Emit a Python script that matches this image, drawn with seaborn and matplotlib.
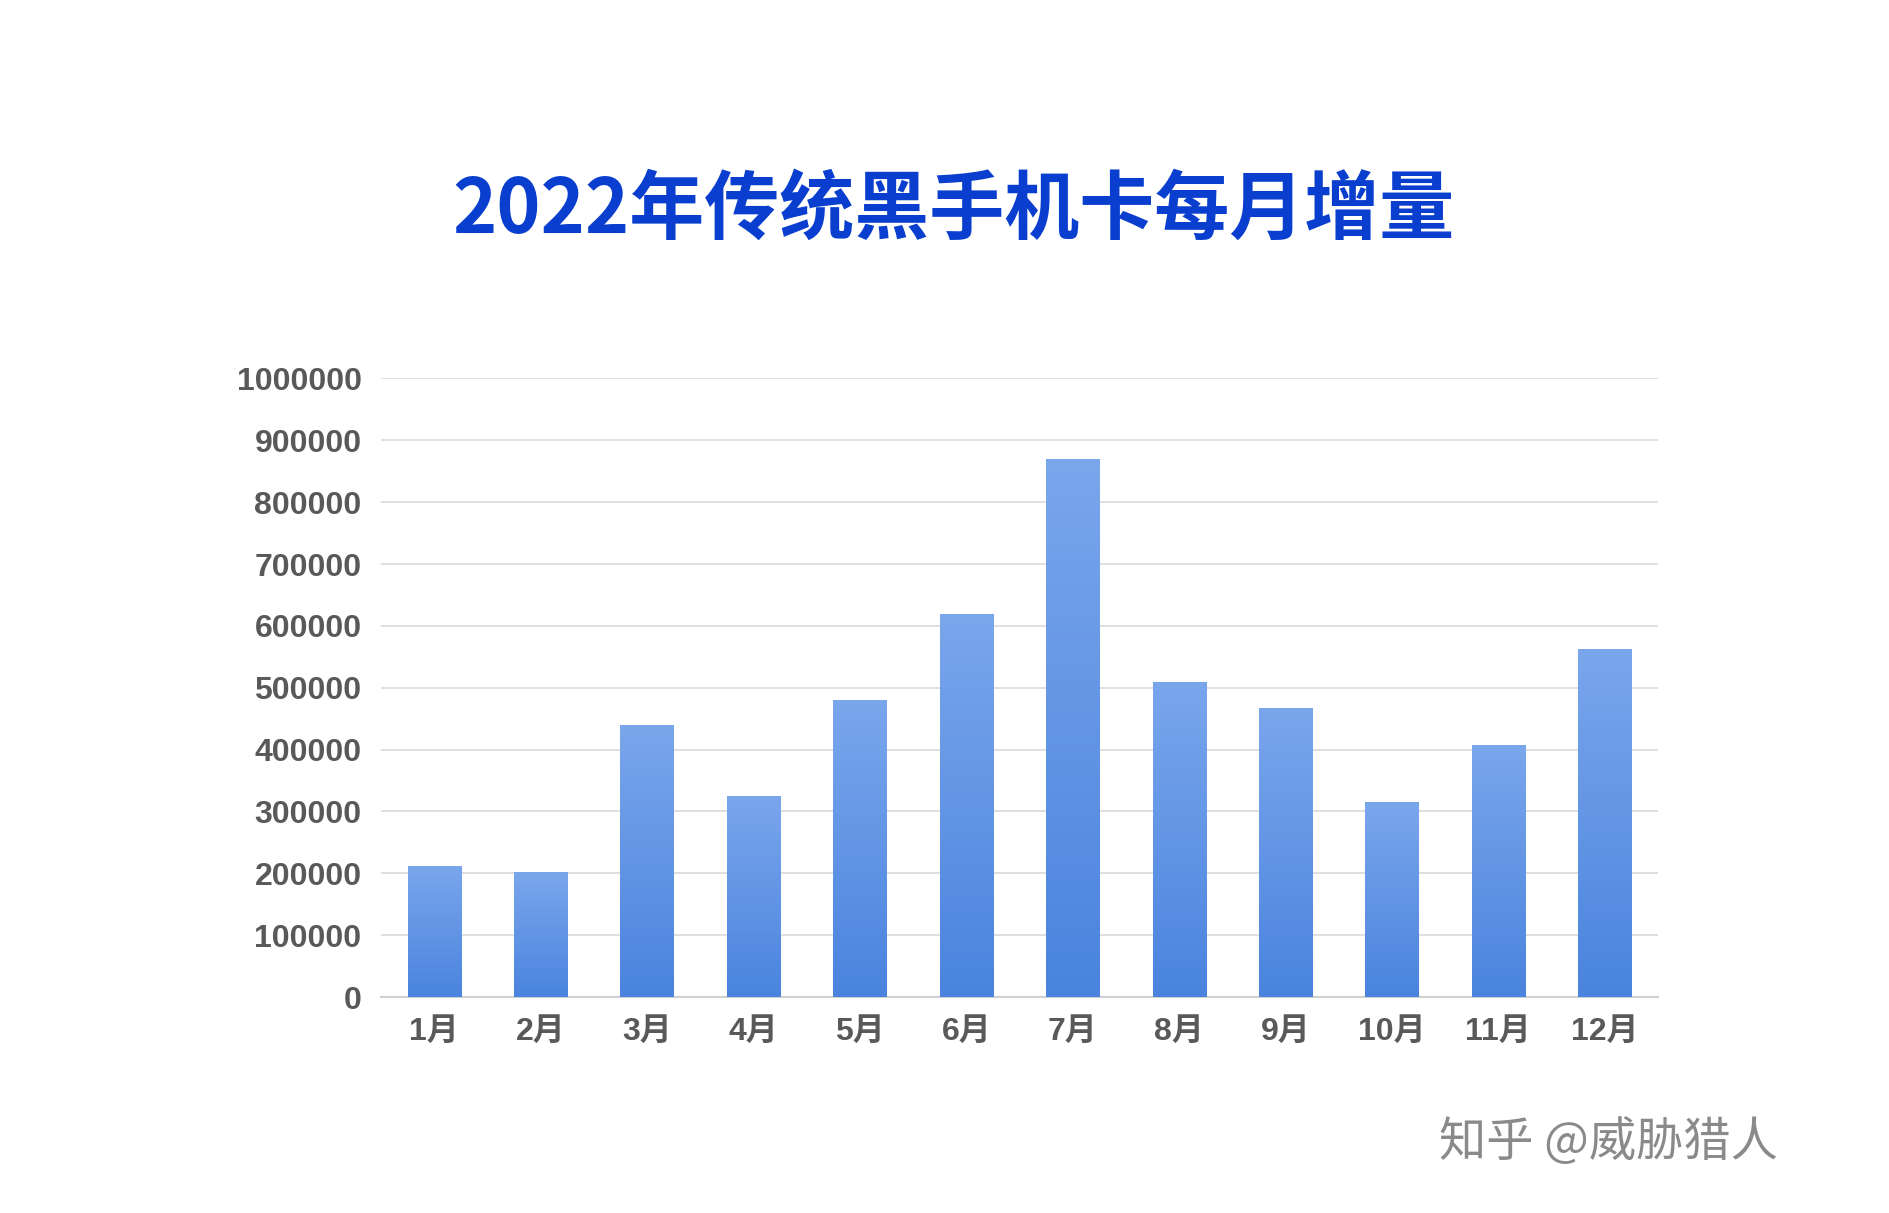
import matplotlib
matplotlib.use("Agg")
import matplotlib.pyplot as plt
import numpy as np
import pandas as pd
import seaborn as sns

months = ["1月", "2月", "3月", "4月", "5月", "6月", "7月", "8月", "9月", "10月", "11月", "12月"]
values = [212000, 202000, 440000, 325000, 480000, 620000, 870000, 510000, 468000, 315000, 408000, 562000]
yticks = list(range(0, 1000001, 100000))

plt.rcParams["font.family"] = ["Liberation Sans", "Noto Sans CJK SC"]
df = pd.DataFrame({"month": months, "value": values})

fig = plt.figure(figsize=(18.89, 12.13), dpi=100)
ax = fig.add_axes([0.2017, 0.178, 0.676, 0.510])
sns.barplot(data=df, x="month", y="value", color="#5b91e6", width=0.5, ax=ax, zorder=2)

# vertical gradient on each bar
grad = np.linspace(0, 1, 256).reshape(-1, 1)
cmap = matplotlib.colors.LinearSegmentedColormap.from_list("g", ["#4a84de", "#7aa6ec"])
for patch in ax.patches:
    x0, y0 = patch.get_x(), patch.get_y()
    w, h = patch.get_width(), patch.get_height()
    im = ax.imshow(grad, cmap=cmap, extent=[x0, x0 + w, y0, y0 + h], origin="lower",
                   aspect="auto", zorder=3)
    im.set_clip_path(patch)
    patch.set_facecolor("none")
    patch.set_edgecolor("none")

ax.set_xlim(-0.5, len(months) - 0.5)
ax.set_ylim(0, 1000000)
ax.set_yticks(yticks)
ax.set_yticklabels([str(v) for v in yticks])
ax.grid(axis="y", color="#d9d9d9", linewidth=1.2, zorder=0)
ax.set_axisbelow(True)
for s in ["top", "right", "left"]:
    ax.spines[s].set_visible(False)
ax.spines["bottom"].set_color("#d0d0d0")
ax.spines["bottom"].set_linewidth(1.5)
ax.tick_params(length=0, pad=14)
for lab in ax.get_xticklabels() + ax.get_yticklabels():
    lab.set_fontsize(23)
    lab.set_fontweight("bold")
    lab.set_color("#595959")
ax.set_xlabel("")
ax.set_ylabel("")

fig.text(0.505, 0.826, "2022年传统黑手机卡每月增量", ha="center", va="center",
         fontsize=54, fontweight="bold", color="#0a3ecf", family="Noto Sans CJK SC")
fig.text(0.762, 0.058, "知乎 @威胁猎人", ha="left", va="center", fontsize=34, color="#8a8a8a",
         family="Noto Sans CJK SC")

fig.savefig("out.png", dpi=100, facecolor="white")
